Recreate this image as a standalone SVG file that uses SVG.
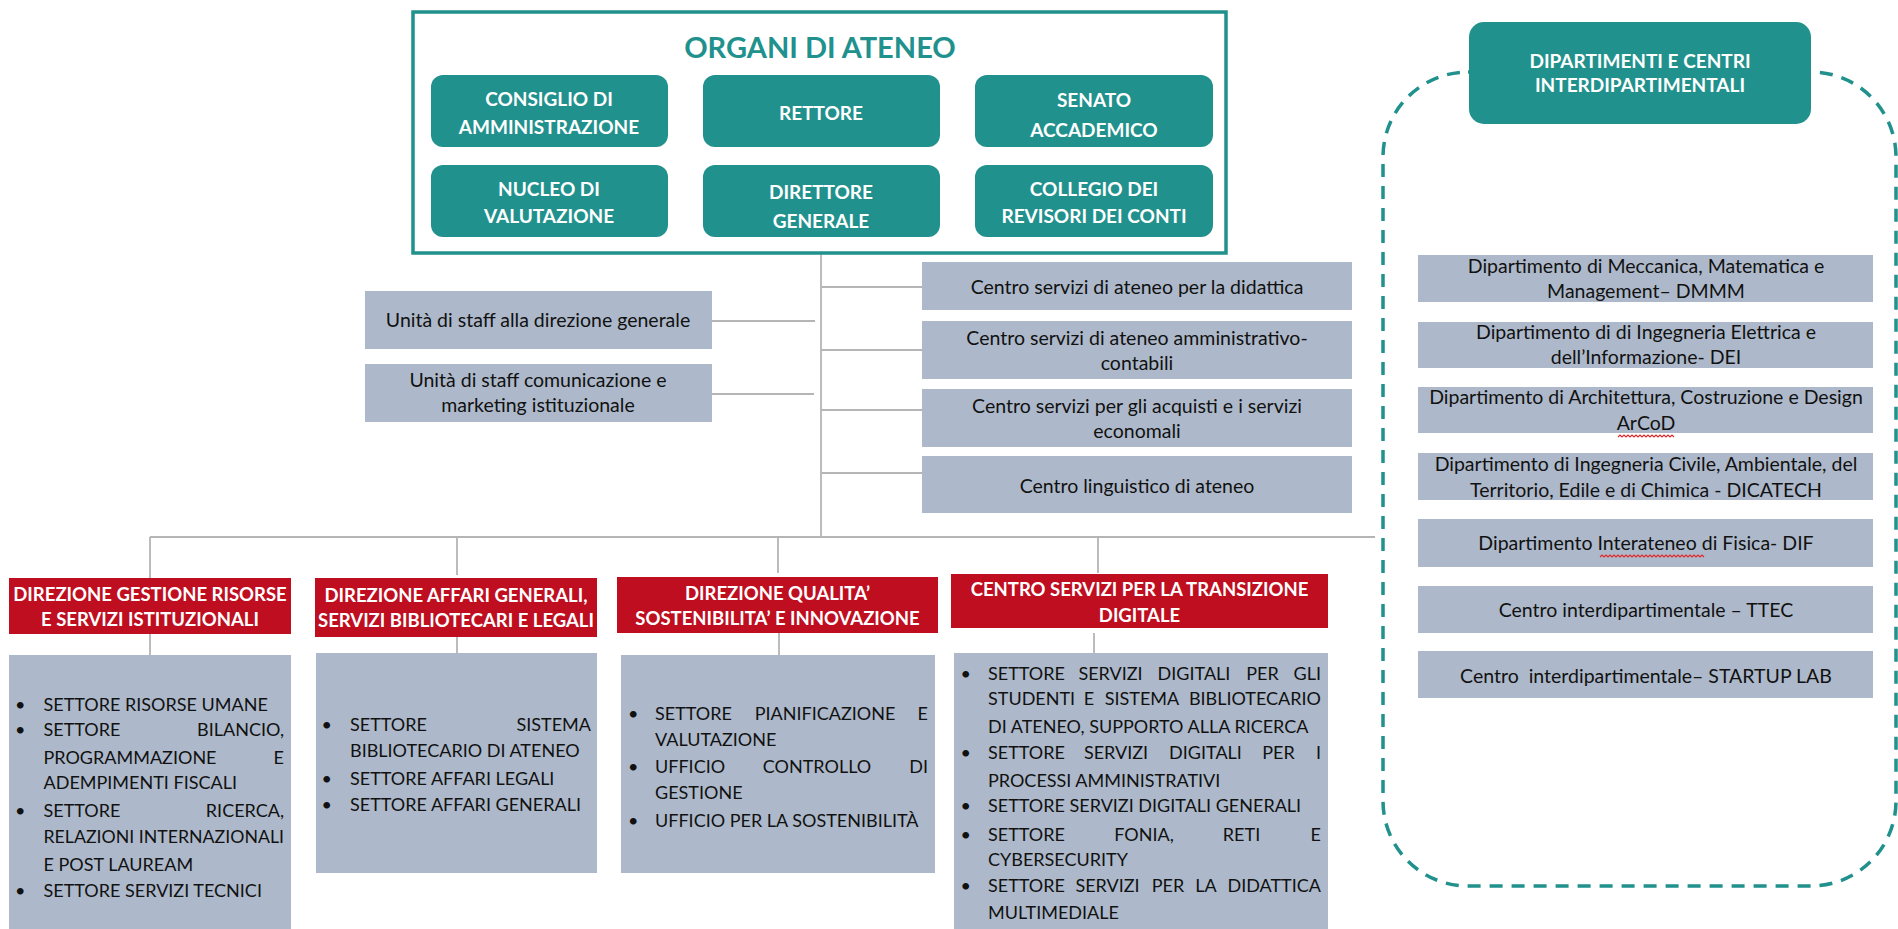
<svg xmlns="http://www.w3.org/2000/svg" width="1898" height="929" viewBox="0 0 1898 929">
<style>
.conn{stroke:#b5b5b5;stroke-width:1.8;fill:none}
.teal{fill:#21918d}
.red{fill:#bf0e1f}
.gray{fill:#adb9ca}
.tb{font-family:Lato,"Liberation Sans",sans-serif;font-weight:bold;font-size:19px;fill:#fff;text-anchor:middle}
.hd{font-family:Lato,"Liberation Sans",sans-serif;font-weight:bold;font-size:18.5px;fill:#fff;text-anchor:middle}
.t{font-family:Lato,"Liberation Sans",sans-serif;font-size:19.5px;fill:#111;text-anchor:middle}
.b{font-family:Lato,"Liberation Sans",sans-serif;font-size:18px;fill:#111}
.e{text-anchor:end}
.m{text-anchor:middle}
.sq{stroke:#e0282a;stroke-width:1.1;fill:none}
</style>
<rect width="1898" height="929" fill="#fff"/>

<g id="connectors">
<path class="conn" d="M821,254 V537"/>
<path class="conn" d="M712,321 H815 M712,394 H814"/>
<path class="conn" d="M821,287 H922 M821,350 H922 M821,410 H922 M821,473 H922"/>
<path class="conn" d="M150,537 H1375"/>
<path class="conn" d="M150,537 V578 M457,537 V575 M778,537 V573 M1098,537 V573"/>
<path class="conn" d="M150,634 V655 M457,637 V653 M779,633 V655 M1094,633 V653"/>
</g>

<g id="organi">
<rect x="413" y="12" width="813" height="241" fill="#fff" stroke="#21918d" stroke-width="3.5"/>
<text x="820" y="58" style="font-family:Lato,'Liberation Sans',sans-serif;font-weight:bold;font-size:29px;fill:#21918d;text-anchor:middle">ORGANI DI ATENEO</text>
</g>
<g id="consiglio"><rect class="teal" x="431" y="75" width="237" height="72" rx="12"/><text class="tb" x="549" y="106">CONSIGLIO DI</text><text class="tb" x="549" y="134">AMMINISTRAZIONE</text></g>
<g id="rettore"><rect class="teal" x="703" y="75" width="237" height="72" rx="12"/><text class="tb" x="821" y="120">RETTORE</text></g>
<g id="senato"><rect class="teal" x="975" y="75" width="238" height="72" rx="12"/><text class="tb" x="1094" y="107">SENATO</text><text class="tb" x="1094" y="137">ACCADEMICO</text></g>
<g id="nucleo"><rect class="teal" x="431" y="165" width="237" height="72" rx="12"/><text class="tb" x="549" y="196">NUCLEO DI</text><text class="tb" x="549" y="223">VALUTAZIONE</text></g>
<g id="direttore"><rect class="teal" x="703" y="165" width="237" height="72" rx="12"/><text class="tb" x="821" y="199">DIRETTORE</text><text class="tb" x="821" y="228">GENERALE</text></g>
<g id="collegio"><rect class="teal" x="975" y="165" width="238" height="72" rx="12"/><text class="tb" x="1094" y="196">COLLEGIO DEI</text><text class="tb" x="1094" y="223">REVISORI DEI CONTI</text></g>

<g id="staff-dg"><rect class="gray" x="365" y="291" width="347" height="58"/><text class="t" x="538" y="327">Unità di staff alla direzione generale</text></g>
<g id="staff-com"><rect class="gray" x="365" y="364" width="347" height="58"/><text class="t" x="538" y="387">Unità di staff comunicazione e</text><text class="t" x="538" y="412">marketing istituzionale</text></g>

<g id="centro-didattica"><rect class="gray" x="922" y="262" width="430" height="48"/><text class="t" x="1137" y="294">Centro servizi di ateneo per la didattica</text></g>
<g id="centro-amm"><rect class="gray" x="922" y="321" width="430" height="58"/><text class="t" x="1137" y="345">Centro servizi di ateneo amministrativo-</text><text class="t" x="1137" y="370">contabili</text></g>
<g id="centro-acquisti"><rect class="gray" x="922" y="389" width="430" height="58"/><text class="t" x="1137" y="413">Centro servizi per gli acquisti e i servizi</text><text class="t" x="1137" y="438">economali</text></g>
<g id="centro-linguistico"><rect class="gray" x="922" y="456" width="430" height="57"/><text class="t" x="1137" y="493">Centro linguistico di ateneo</text></g>

<g id="dipartimenti">
<rect x="1383" y="72" width="513" height="814" rx="85" fill="none" stroke="#21918d" stroke-width="3.5" stroke-dasharray="13 9"/>
<rect class="teal" x="1469" y="22" width="342" height="102" rx="15"/>
<text class="tb" x="1640" y="68">DIPARTIMENTI E CENTRI</text>
<text class="tb" x="1640" y="92">INTERDIPARTIMENTALI</text>
</g>
<g id="dmmm"><rect class="gray" x="1418" y="255" width="455" height="47"/><text class="t" x="1646" y="273">Dipartimento di Meccanica, Matematica e</text><text class="t" x="1646" y="298">Management– DMMM</text></g>
<g id="dei"><rect class="gray" x="1418" y="322" width="455" height="46"/><text class="t" x="1646" y="339">Dipartimento di di Ingegneria Elettrica e</text><text class="t" x="1646" y="364">dell’Informazione- DEI</text></g>
<g id="arcod"><rect class="gray" x="1418" y="387" width="455" height="46"/><text class="t" x="1646" y="404">Dipartimento di Architettura, Costruzione e Design</text><text class="t" x="1646" y="430">ArCoD</text>
<path class="sq" d="M1618,437 l2,-2 l2,2 l2,-2 l2,2 l2,-2 l2,2 l2,-2 l2,2 l2,-2 l2,2 l2,-2 l2,2 l2,-2 l2,2 l2,-2 l2,2 l2,-2 l2,2 l2,-2 l2,2 l2,-2 l2,2 l2,-2 l2,2 l2,-2 l2,2 l2,-2 l2,2"/></g>
<g id="dicatech"><rect class="gray" x="1418" y="453" width="455" height="47"/><text class="t" x="1646" y="471">Dipartimento di Ingegneria Civile, Ambientale, del</text><text class="t" x="1646" y="497">Territorio, Edile e di Chimica - DICATECH</text></g>
<g id="dif"><rect class="gray" x="1418" y="519" width="455" height="48"/><text class="t" x="1646" y="550">Dipartimento Interateneo di Fisica- DIF</text>
<path class="sq" d="M1600,557 l2,-2 l2,2 l2,-2 l2,2 l2,-2 l2,2 l2,-2 l2,2 l2,-2 l2,2 l2,-2 l2,2 l2,-2 l2,2 l2,-2 l2,2 l2,-2 l2,2 l2,-2 l2,2 l2,-2 l2,2 l2,-2 l2,2 l2,-2 l2,2 l2,-2 l2,2 l2,-2 l2,2 l2,-2 l2,2 l2,-2 l2,2 l2,-2 l2,2 l2,-2 l2,2 l2,-2 l2,2 l2,-2 l2,2 l2,-2 l2,2 l2,-2 l2,2 l2,-2 l2,2 l2,-2 l2,2 l2,-2 l2,2"/></g>
<g id="ttec"><rect class="gray" x="1418" y="586" width="455" height="47"/><text class="t" x="1646" y="617">Centro interdipartimentale – TTEC</text></g>
<g id="startup"><rect class="gray" x="1418" y="651" width="455" height="47"/><text class="t" x="1646" y="683" xml:space="preserve">Centro  interdipartimentale– STARTUP LAB</text></g>

<g id="dir-risorse">
<rect class="red" x="9" y="578" width="282" height="56"/>
<text class="hd" x="150" y="601">DIREZIONE GESTIONE RISORSE</text>
<text class="hd" x="150" y="626">E SERVIZI ISTITUZIONALI</text>
<rect class="gray" x="9" y="655" width="282" height="280"/>
<text class="b" x="15" y="711">•</text><text class="b" x="43.5" y="711">SETTORE RISORSE UMANE</text>
<text class="b" x="15" y="736">•</text><text class="b" x="43.5" y="736">SETTORE</text><text class="b e" x="284" y="736">BILANCIO,</text>
<text class="b" x="43.5" y="764">PROGRAMMAZIONE</text><text class="b e" x="284" y="764">E</text>
<text class="b" x="43.5" y="789">ADEMPIMENTI FISCALI</text>
<text class="b" x="15" y="817">•</text><text class="b" x="43.5" y="817">SETTORE</text><text class="b e" x="284" y="817">RICERCA,</text>
<text class="b" x="43.5" y="843" textLength="240.5" lengthAdjust="spacingAndGlyphs">RELAZIONI INTERNAZIONALI</text>
<text class="b" x="43.5" y="871">E POST LAUREAM</text>
<text class="b" x="15" y="897">•</text><text class="b" x="43.5" y="897">SETTORE SERVIZI TECNICI</text>
</g>

<g id="dir-affari">
<rect class="red" x="315" y="578" width="282" height="59"/>
<text class="hd" x="456" y="602">DIREZIONE AFFARI GENERALI,</text>
<text class="hd" x="456" y="627">SERVIZI BIBLIOTECARI E LEGALI</text>
<rect class="gray" x="316" y="653" width="281" height="220"/>
<text class="b" x="321.5" y="731">•</text><text class="b" x="350" y="731">SETTORE</text><text class="b e" x="591" y="731">SISTEMA</text>
<text class="b" x="350" y="757">BIBLIOTECARIO DI ATENEO</text>
<text class="b" x="321.5" y="785">•</text><text class="b" x="350" y="785">SETTORE AFFARI LEGALI</text>
<text class="b" x="321.5" y="811">•</text><text class="b" x="350" y="811">SETTORE AFFARI GENERALI</text>
</g>

<g id="dir-qualita">
<rect class="red" x="617" y="577" width="321" height="56"/>
<text class="hd" x="777.5" y="600">DIREZIONE QUALITA’</text>
<text class="hd" x="777.5" y="625">SOSTENIBILITA’ E INNOVAZIONE</text>
<rect class="gray" x="621" y="655" width="314" height="218"/>
<text class="b" x="628" y="720">•</text><text class="b" x="655" y="720">SETTORE</text><text class="b m" x="825" y="720">PIANIFICAZIONE</text><text class="b e" x="928" y="720">E</text>
<text class="b" x="655" y="746">VALUTAZIONE</text>
<text class="b" x="628" y="773">•</text><text class="b" x="655" y="773">UFFICIO</text><text class="b m" x="817" y="773">CONTROLLO</text><text class="b e" x="928" y="773">DI</text>
<text class="b" x="655" y="799">GESTIONE</text>
<text class="b" x="628" y="827">•</text><text class="b" x="655" y="827">UFFICIO PER LA SOSTENIBILITÀ</text>
</g>

<g id="centro-transizione">
<rect class="red" x="951" y="574" width="377" height="54"/>
<text class="hd" x="1139.5" y="596">CENTRO SERVIZI PER LA TRANSIZIONE</text>
<text class="hd" x="1139.5" y="622">DIGITALE</text>
<rect class="gray" x="954" y="653" width="374" height="282"/>
<text class="b" x="960.5" y="680">•</text><text class="b" x="988" y="680">SETTORE</text><text class="b m" x="1110.5" y="680">SERVIZI</text><text class="b m" x="1194" y="680">DIGITALI</text><text class="b m" x="1262.5" y="680">PER</text><text class="b e" x="1321" y="680">GLI</text>
<text class="b" x="988" y="705">STUDENTI</text><text class="b m" x="1089" y="705">E</text><text class="b m" x="1142" y="705">SISTEMA</text><text class="b e" x="1321" y="705">BIBLIOTECARIO</text>
<text class="b" x="988" y="733">DI ATENEO, SUPPORTO ALLA RICERCA</text>
<text class="b" x="960.5" y="759">•</text><text class="b" x="988" y="759">SETTORE</text><text class="b m" x="1116" y="759">SERVIZI</text><text class="b m" x="1205.5" y="759">DIGITALI</text><text class="b m" x="1278.5" y="759">PER</text><text class="b e" x="1321" y="759">I</text>
<text class="b" x="988" y="787">PROCESSI AMMINISTRATIVI</text>
<text class="b" x="960.5" y="812">•</text><text class="b" x="988" y="812">SETTORE SERVIZI DIGITALI GENERALI</text>
<text class="b" x="960.5" y="841">•</text><text class="b" x="988" y="841">SETTORE</text><text class="b m" x="1144" y="841">FONIA,</text><text class="b m" x="1241.5" y="841">RETI</text><text class="b e" x="1321" y="841">E</text>
<text class="b" x="988" y="866">CYBERSECURITY</text>
<text class="b" x="960.5" y="892">•</text><text class="b" x="988" y="892">SETTORE</text><text class="b m" x="1107.5" y="892">SERVIZI</text><text class="b m" x="1168" y="892">PER</text><text class="b m" x="1206" y="892">LA</text><text class="b e" x="1321" y="892">DIDATTICA</text>
<text class="b" x="988" y="919">MULTIMEDIALE</text>
</g>
</svg>
